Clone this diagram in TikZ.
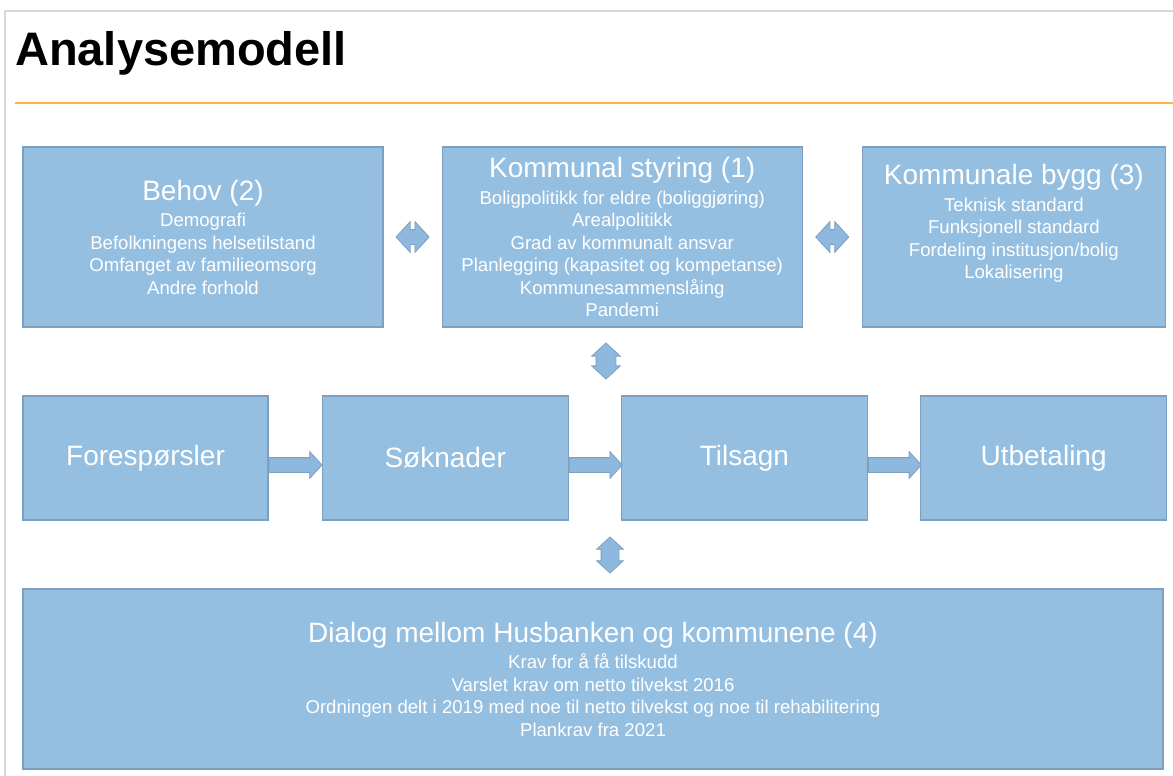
\documentclass[tikz,border=0pt]{standalone}
\usepackage{fontspec}
\setmainfont{Liberation Sans}
\usetikzlibrary{positioning,shapes.arrows,calc}
\definecolor{boxblue}{HTML}{95BFE1}
\definecolor{boxline}{HTML}{7F9FBF}
\definecolor{arrowblue}{HTML}{8EB8DE}
\definecolor{rulecolor}{HTML}{F7B742}
\definecolor{framecolor}{HTML}{D9D9D9}
\tikzset{x=1pt, y=-1pt,
        box/.style={ % the light blue boxes
            draw=boxline,
            fill=boxblue,
            line width=1.2pt,
            text=white,
            align=center,
            inner sep=0pt,
            minimum height=180pt,
            font=\fontsize{18.6}{22.5}\selectfont},
        flowbox/.style={ % the boxes of the middle row
            box,
            minimum width=246pt,
            minimum height=124pt,
            font=\fontsize{28}{34}\selectfont},
        twoway/.style={ % block arrows with two heads
            double arrow,
            draw=boxline,
            fill=arrowblue,
            line width=0.8pt,
            inner sep=0pt,
            double arrow tip angle=95},
        oneway/.style={ % block arrows with one head
            single arrow,
            draw=boxline,
            fill=arrowblue,
            line width=0.8pt,
            inner xsep=0pt,
            inner ysep=7pt,
            minimum height=53pt,
            single arrow head extend=6pt,
            single arrow tip angle=95,
            anchor=west}
        }
\newcommand{\boxhead}[1]{{\fontsize{28}{30}\selectfont #1}\\[4pt]}

\begin{document}
\begin{tikzpicture}
    \useasboundingbox (0,0) rectangle (1173,776);
    \draw[framecolor, line width=2pt] (5,776) -- (5,11) -- (1173,11);
    \draw[rulecolor, line width=2pt] (15,103) -- (1173,103);
    \node[anchor=base west, inner sep=0pt, font=\bfseries\fontsize{47}{50}\selectfont] (title) at (15,66) {Analysemodell};

    % top row
    \node[box, minimum width=360pt] (behov) at (203,237) {\boxhead{Behov (2)}
        Demografi\\ Befolkningens helsetilstand\\ Omfanget av familieomsorg\\ Andre forhold};
    \node[box, minimum width=360pt] (kommunal) [right=58pt of behov] {\boxhead{Kommunal styring (1)}
        Boligpolitikk for eldre (boliggjøring)\\ Arealpolitikk\\ Grad av kommunalt ansvar\\
        Planlegging (kapasitet og kompetanse)\\ Kommunesammenslåing\\ Pandemi};
    \node[box, minimum width=303pt] (bygg) [right=59pt of kommunal] {\boxhead{Kommunale bygg (3)}
        Teknisk standard\\ Funksjonell standard\\ Fordeling institusjon/bolig\\ Lokalisering\\[8pt]\mbox{}};

    % middle row
    \node[flowbox, minimum width=245pt] (fore) at (145.5,458) {Forespørsler};
    \node[flowbox] (sok) [right=53pt of fore] {Søknader};
    \node[flowbox] (tils) [right=52pt of sok] {Tilsagn};
    \node[flowbox] (utbet) [right=52pt of tils] {Utbetaling};

    % bottom row
    \node[box, minimum width=1140pt] (dialog) at (593,679) {\boxhead{Dialog mellom Husbanken og kommunene (4)}
        Krav for å få tilskudd\\ Varslet krav om netto tilvekst 2016\\
        Ordningen delt i 2019 med noe til netto tilvekst og noe til rehabilitering\\ Plankrav fra 2021};

    % arrows
    \node[twoway, inner ysep=7pt, minimum height=33pt, double arrow head extend=8pt]
        (behkom) at ($(behov.east)!0.5!(kommunal.west)$) {};
    \node[twoway, inner ysep=7pt, minimum height=33pt, double arrow head extend=8pt]
        (kombyg) at ($(kommunal.east)!0.5!(bygg.west)$) {};
    \node[twoway, shape border rotate=90, inner xsep=9.5pt, minimum height=36pt, double arrow head extend=4.5pt]
        (komrow) at (606,361) {};
    \node[twoway, shape border rotate=90, inner xsep=8.5pt, minimum height=36pt, double arrow head extend=4.5pt]
        (rowdia) at (610,555) {};
    \node[oneway] (foresok) at ([yshift=-7pt]fore.east) {};
    \node[oneway] (soktils) at ([yshift=-7pt]sok.east) {};
    \node[oneway] (tilsutb) at ([yshift=-7pt]tils.east) {};
\end{tikzpicture}
\end{document}
